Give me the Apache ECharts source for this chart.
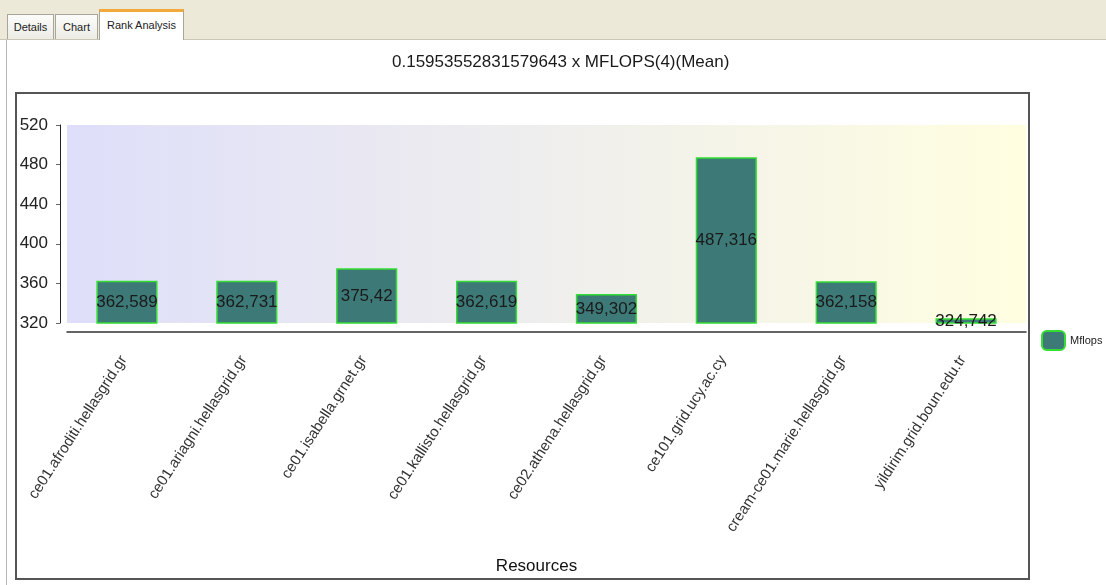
<!DOCTYPE html>
<html>
<head>
<meta charset="utf-8">
<script src="https://cdn.jsdelivr.net/npm/echarts@6/dist/echarts.min.js"></script>
<style>
  body { margin: 0; background: #fff; font-family: 'Liberation Sans', Arial, sans-serif; }
  .tabbar { position: absolute; left: 0; top: 0; width: 1106px; height: 39px; background: #ece9d8; border-bottom: 1px solid #c9c6b8; }
  .tab { position: absolute; top: 14px; height: 25px; box-sizing: border-box; border: 1px solid #a8a69a; border-bottom: none;
         background: linear-gradient(#fcfcfb, #ecebe4); font-size: 11px; line-height: 24px; text-align: center; color: #222; }
  .tab.active { top: 9px; height: 31px; background: #fff; border-top: 3px solid #f3a93a; line-height: 26px; }
  .leftline { position: absolute; left: 6px; top: 40px; width: 1px; height: 545px; background: #b5b5b5; }
  .frame { position: absolute; left: 15px; top: 92px; width: 1015px; height: 488px; box-sizing: border-box; border: 2px solid #555; }
  #chart { position: absolute; left: 0; top: 0; width: 1106px; height: 585px; }
</style>
</head>
<body>
<div class="tabbar">
  <div class="tab" style="left:7px;width:47px;">Details</div>
  <div class="tab" style="left:55px;width:43px;">Chart</div>
  <div class="tab active" style="left:99px;width:85px;">Rank Analysis</div>
</div>
<div class="leftline"></div>
<div class="frame"></div>
<div id="chart"></div>
<script>
var resources = ['ce01.afroditi.hellasgrid.gr', 'ce01.ariagni.hellasgrid.gr', 'ce01.isabella.grnet.gr',
  'ce01.kallisto.hellasgrid.gr', 'ce02.athena.hellasgrid.gr', 'ce101.grid.ucy.ac.cy',
  'cream-ce01.marie.hellasgrid.gr', 'yildirim.grid.boun.edu.tr'];
var mflops = [362.589, 362.731, 375.42, 362.619, 349.302, 487.316, 362.158, 324.742];
var yTicks = [320, 360, 400, 440, 480, 520];

var font = 'Liberation Sans';
var myChart = echarts.init(document.getElementById('chart'));
var option = {
  backgroundColor: 'transparent',
  animation: false,
  title: {
    text: '0.15953552831579643 x MFLOPS(4)(Mean)',
    left: 387,
    top: 49,
    textStyle: { fontFamily: font, fontSize: 17, fontWeight: 'normal', color: '#1a1a1a' }
  },
  legend: {
    left: 1036,
    top: 325,
    itemWidth: 23,
    itemHeight: 19,
    itemGap: 4,
    textStyle: { fontFamily: font, fontSize: 11, color: '#222' },
    data: ['Mflops']
  },
  grid: {
    left: 67,
    right: 80,
    top: 125,
    bottom: 262,
    show: true,
    borderWidth: 0,
    backgroundColor: {
      type: 'linear', x: 0, y: 0, x2: 1, y2: 0,
      colorStops: [{ offset: 0, color: '#dedefa' }, { offset: 1, color: '#fffee0' }]
    }
  },
  xAxis: {
    type: 'category',
    data: resources,
    offset: 9,
    name: 'Resources',
    nameLocation: 'middle',
    nameGap: 226,
    nameTextStyle: { fontFamily: font, fontSize: 17, color: '#111', padding: [0, 20, 0, 0] },
    axisLine: { lineStyle: { color: '#333', width: 1.5 } },
    axisTick: { alignWithLabel: false, length: 7, lineStyle: { color: '#aaa' } },
    axisLabel: { rotate: 57, margin: 20, fontFamily: font, fontSize: 15, color: '#333', interval: 0, padding: [0, 6, 0, 0] }
  },
  yAxis: {
    type: 'value',
    min: yTicks[0],
    max: yTicks[yTicks.length - 1],
    interval: 40,
    offset: 7,
    axisLine: { show: true, lineStyle: { color: '#222' } },
    axisTick: { show: true, length: 4, lineStyle: { color: '#666' } },
    axisLabel: { margin: 12, fontFamily: font, fontSize: 17, color: '#222' },
    splitLine: { show: false }
  },
  series: [{
    name: 'Mflops',
    type: 'bar',
    data: mflops,
    barWidth: '51%',
    itemStyle: { color: '#3d7a77', borderColor: '#33dd33', borderWidth: 1.5 },
    label: {
      show: true,
      position: 'inside',
      fontFamily: font,
      fontSize: 17,
      color: '#1a1a1a',
      formatter: function (p) { return String(p.value).replace('.', ','); }
    }
  }]
};
myChart.setOption(option);
</script>
</body>
</html>
